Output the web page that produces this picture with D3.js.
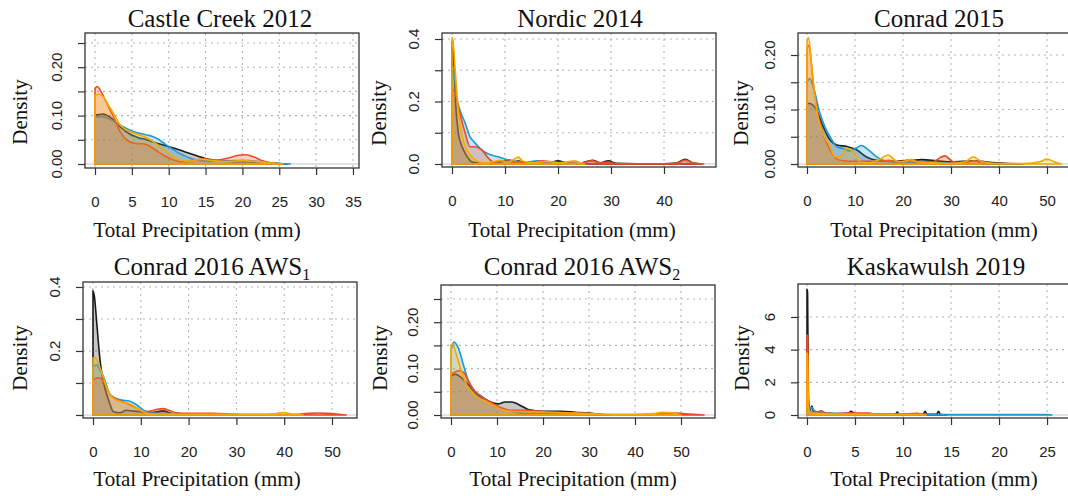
<!DOCTYPE html>
<html><head><meta charset="utf-8">
<script src="https://cdn.jsdelivr.net/npm/d3@7"></script>
<style>body{margin:0;background:#fff}svg{display:block}</style>
</head><body>
<svg id="c" width="1068" height="496"></svg>
<script>
// ---------- DATA (x = precipitation mm, y = density) ----------
const seriesNames = ["black","blue","red","orange"];
const seriesColors = ["#1a1a1a","#1b9ad7","#f04a24","#f5a800"];

const titles = ["Castle Creek 2012","Nordic 2014","Conrad 2015","Conrad 2016 AWS","Conrad 2016 AWS","Kaskawulsh 2019"];
const titleSubs = ["","","","1","2",""];
const xLabel = "Total Precipitation (mm)";
const yLabel = "Density";

const xTicks = [[0,5,10,15,20,25,30,35],[0,10,20,30,40],[0,10,20,30,40,50],[0,10,20,30,40,50],[0,10,20,30,40,50],[0,5,10,15,20,25]];
const yTicks = [[0,0.05,0.10,0.15,0.20,0.25],[0,0.1,0.2,0.3,0.4],[0,0.05,0.10,0.15,0.20],[0,0.1,0.2,0.3,0.4],[0,0.05,0.10,0.15,0.20,0.25],[0,2,4,6]];
const yTickLabels = [[0,0.10,0.20],[0,0.2,0.4],[0,0.10,0.20],[0.2,0.4],[0,0.10,0.20],[0,2,4,6]];
const yTickFormats = [".2f",".1f",".2f",".1f",".2f","d"];

// Castle Creek 2012
const castleBlack = [[0,0.101],[0.5,0.102],[1.1,0.103],[1.7,0.100],[2.3,0.094],[3.4,0.077],[4.7,0.062],[5.8,0.055],[7,0.050],[8.2,0.044],[9.3,0.039],[10.4,0.034],[11.5,0.029],[12.8,0.022],[14.2,0.015],[15.5,0.009],[17,0.006],[19,0.005],[21,0.005],[23,0.003],[25,0.001],[26,0]];
const castleBlue = [[0,0.097],[1,0.098],[2,0.093],[2.8,0.086],[3.8,0.077],[5.2,0.067],[6.2,0.063],[7,0.060],[7.8,0.057],[8.4,0.053],[9.1,0.046],[9.7,0.039],[10.4,0.032],[11.1,0.025],[12,0.018],[12.9,0.012],[14,0.008],[15.5,0.006],[17,0.006],[19,0.007],[21,0.007],[23,0.003],[25,0.001],[26.5,0]];
const castleRed = [[0,0.156],[0.3,0.160],[0.8,0.150],[1.6,0.125],[2.5,0.098],[3.4,0.067],[4.3,0.050],[5.2,0.043],[6,0.042],[6.6,0.042],[7.3,0.038],[7.9,0.032],[8.8,0.023],[9.7,0.015],[10.6,0.009],[11.5,0.005],[12.5,0.005],[13.5,0.008],[15,0.010],[16.5,0.008],[18,0.012],[19.5,0.018],[20.5,0.019],[21.5,0.015],[22.5,0.008],[24,0.002],[25.5,0]];
const castleOrange = [[0,0.143],[0.5,0.144],[1.1,0.139],[1.8,0.122],[2.5,0.105],[3.4,0.081],[4.7,0.067],[5.5,0.063],[6.1,0.060],[7.5,0.050],[8.8,0.036],[9.7,0.025],[10.6,0.015],[11.5,0.009],[12.4,0.006],[13.5,0.008],[14.5,0.010],[16,0.007],[18,0.005],[20,0.007],[22,0.005],[24,0.002],[25.5,0]];

// Nordic 2014
const nordicBlack = [[0,0.39],[0.15,0.395],[0.4,0.30],[0.7,0.19],[1.2,0.098],[1.8,0.06],[2.5,0.034],[3.1,0.018],[3.7,0.007],[4.5,0.004],[6,0.003],[8,0.004],[9.5,0.008],[11,0.012],[11.8,0.008],[12.5,0.010],[13.5,0.004],[16,0.003],[18.5,0.005],[20,0.010],[21.5,0.004],[24,0.002],[26.5,0.012],[28,0.004],[29.5,0.010],[31,0.002],[35,0.001],[40,0.001],[42.5,0.004],[44,0.015],[45.5,0.003],[47,0]];
const nordicBlue = [[0,0.30],[0.3,0.31],[0.8,0.22],[1.5,0.173],[2.5,0.13],[3.4,0.087],[4.2,0.07],[5,0.055],[6,0.04],[6.9,0.032],[8.7,0.023],[10.6,0.013],[12,0.008],[14,0.006],[16,0.010],[18,0.006],[20,0.004],[22,0.003],[24,0.002],[25.5,0]];
const nordicRed = [[0,0.225],[0.2,0.237],[0.6,0.227],[1.5,0.162],[2.5,0.098],[3.4,0.055],[4.3,0.055],[5.6,0.045],[6.9,0.018],[8.1,0.005],[9.5,0.010],[11,0.008],[12.5,0.004],[15,0.005],[17,0.010],[19,0.006],[21,0.003],[24,0.002],[26.5,0.010],[28,0.003],[29.5,0.006],[31,0.001],[35,0.001],[40,0.001],[42.5,0.003],[44,0.013],[45.5,0.003],[47.5,0]];
const nordicOrange = [[0,0.40],[0.1,0.405],[0.57,0.31],[1.2,0.17],[1.8,0.098],[2.8,0.045],[3.7,0.023],[5,0.007],[6.5,0.004],[8,0.008],[9,0.012],[10.5,0.006],[12,0.018],[12.5,0.022],[13.3,0.010],[15,0.004],[18,0.008],[20,0.004],[21.5,0.006],[23,0.010],[24.2,0.004],[25,0]];

// Conrad 2015
const conrad15Black = [[0,0.111],[0.6,0.111],[2,0.099],[3.4,0.068],[4.8,0.044],[6.2,0.035],[8.3,0.032],[10.3,0.026],[12.4,0.013],[14.5,0.007],[17,0.005],[20,0.006],[22,0.007],[24,0.008],[27,0.006],[30,0.004],[33,0.005],[35,0.006],[38,0.003],[42,0.001],[45,0]];
const conrad15Blue = [[0,0.15],[0.6,0.157],[1.3,0.142],[2.7,0.093],[3.75,0.068],[4.8,0.05],[6.2,0.032],[7.6,0.028],[8.8,0.024],[10,0.028],[11.4,0.034],[12.8,0.026],[14.5,0.013],[16.6,0.005],[19,0.003],[22,0.003],[26,0.002],[30,0.001],[33,0]];
const conrad15Red = [[0,0.21],[0.4,0.218],[1.3,0.148],[2.4,0.087],[3.4,0.056],[4.8,0.026],[6.2,0.009],[7.6,0.006],[10,0.005],[13,0.005],[15,0.005],[17,0.007],[19,0.004],[21,0.007],[23,0.004],[26,0.004],[28.7,0.015],[30.5,0.004],[33,0.003],[35,0.006],[36.5,0]];
const conrad15Orange = [[0,0.225],[0.3,0.232],[1,0.178],[2,0.099],[3.4,0.056],[4.8,0.032],[5.8,0.013],[6.9,0.013],[8.3,0.029],[9.7,0.022],[11,0.004],[13,0.002],[15,0.008],[16.9,0.0165],[18.5,0.006],[20,0.004],[21.5,0.008],[23,0.004],[26,0.002],[30,0.001],[33,0.004],[34.6,0.013],[36.5,0.004],[40,0.001],[45,0.001],[48.5,0.004],[50,0.009],[51.5,0.004],[53,0]];

// Conrad 2016 AWS1
const aws1Black = [[0,0.388],[0.3,0.37],[0.77,0.29],[1.5,0.168],[2.15,0.105],[2.9,0.063],[3.6,0.032],[4.2,0.011],[5.6,0.007],[7,0.015],[8.5,0.012],[9.8,0.010],[12.6,0.008],[14.7,0.013],[16,0.007],[17.5,0]];
const aws1Blue = [[0,0.15],[0.77,0.157],[1.5,0.14],[2.2,0.12],[3.6,0.063],[5.6,0.048],[7.7,0.043],[9.1,0.032],[10.5,0.016],[12,0.007],[15,0.005],[20,0.003],[25,0.002],[30,0]];
const aws1Red = [[0,0.11],[1.1,0.116],[2.2,0.105],[3.6,0.063],[5,0.048],[7,0.037],[9.1,0.022],[10.5,0.01],[12,0.012],[13.5,0.018],[14.7,0.02],[16,0.014],[17.5,0.007],[20,0.005],[25,0.005],[30,0.002],[35,0.001],[40,0.001],[43,0.002],[45,0.005],[47,0.006],[49,0.005],[51,0.003],[53,0]];
const aws1Orange = [[0,0.178],[0.5,0.178],[1.5,0.147],[2.2,0.116],[2.9,0.084],[4.2,0.053],[6.3,0.040],[7.7,0.034],[9.1,0.022],[10.5,0.011],[12,0.003],[16,0.003],[20,0.002],[25,0.002],[30,0.002],[35,0.002],[38,0.004],[39.8,0.008],[41.5,0.003],[44,0]];

// Conrad 2016 AWS2
const aws2Black = [[0,0.083],[0.9,0.088],[2.3,0.08],[3.8,0.065],[5.2,0.048],[7.4,0.034],[8.9,0.027],[10.3,0.024],[11.7,0.028],[13.2,0.028],[15.4,0.019],[16.8,0.012],[19.7,0.008],[24,0.008],[27,0.006],[30,0.004],[33,0.001],[35,0]];
const aws2Blue = [[0,0.14],[0.65,0.157],[1.6,0.144],[2.7,0.108],[3.8,0.073],[5.2,0.051],[6.7,0.040],[8.1,0.030],[9.6,0.019],[11,0.013],[13.2,0.008],[15.4,0.004],[20,0.003],[25,0.001],[27,0]];
const aws2Red = [[0,0.087],[1.6,0.095],[2.7,0.092],[3.8,0.073],[5.2,0.051],[7,0.037],[8.9,0.026],[11,0.015],[13.2,0.010],[16.8,0.010],[21,0.006],[25.5,0.005],[30,0.003],[34,0.001],[40,0.001],[44,0.002],[47,0.004],[49,0.004],[52,0.002],[55,0]];
const aws2Orange = [[0,0.151],[0.3,0.153],[1.2,0.13],[2.3,0.094],[3.4,0.065],[4.5,0.051],[5.9,0.037],[7.4,0.03],[9.6,0.019],[11,0.012],[13.2,0.008],[17,0.007],[22,0.006],[27,0.004],[30,0.003],[35,0.001],[40,0.001],[44,0.003],[46,0.006],[48,0.005],[50,0]];

// Kaskawulsh 2019
const kaskBlack = [[0,7.7],[0.06,7.5],[0.15,1.0],[0.3,0.3],[0.5,0.55],[0.7,0.2],[1,0.15],[2,0.1],[3,0.08],[4.3,0.1],[4.6,0.22],[4.9,0.1],[6,0.05],[8,0.05],[9.2,0.05],[9.4,0.18],[9.6,0.05],[11,0.04],[12.1,0.05],[12.3,0.22],[12.5,0.05],[13.5,0.05],[13.7,0.22],[13.9,0.03],[14.5,0]];
const kaskBlue = [[0,0.3],[0.2,0.4],[0.5,0.45],[0.8,0.25],[1.5,0.15],[3,0.1],[5,0.08],[7,0.06],[10,0.04],[15,0.03],[20,0.03],[25,0.02],[25.5,0]];
const kaskRed = [[0,4.9],[0.06,4.8],[0.15,0.8],[0.3,0.2],[0.8,0.15],[1.5,0.25],[2,0.1],[3,0.08],[4.5,0.12],[6.5,0.12],[7,0.05],[9,0.03],[11.5,0.1],[12,0.02],[12.5,0]];
const kaskOrange = [[0,3.8],[0.06,3.7],[0.15,0.6],[0.3,0.15],[1,0.1],[2,0.08],[4,0.06],[6,0.05],[8,0.04],[10,0.04],[12.3,0.03],[12.4,0]];

const panelSeries = [
  [castleBlack,castleBlue,castleRed,castleOrange],
  [nordicBlack,nordicBlue,nordicRed,nordicOrange],
  [conrad15Black,conrad15Blue,conrad15Red,conrad15Orange],
  [aws1Black,aws1Blue,aws1Red,aws1Orange],
  [aws2Black,aws2Blue,aws2Red,aws2Orange],
  [kaskBlack,kaskBlue,kaskRed,kaskOrange]
];

// ---------- LAYOUT ----------
const layout = [
  {box:[85,33,359,168], xd:[-1.357,35.82], yd:[-0.00826,0.2707], tX:220, tY:27, lX:197, lY:237, dX:27, dY:112},
  {box:[442,33,716,167], xd:[-1.887,49.81], yd:[-0.0096,0.4192], tX:580, tY:27, lX:572, lY:237, dX:386, dY:113},
  {box:[798,33,1072,167], xd:[-1.875,55.21], yd:[-0.0055,0.2404], tX:939, tY:27, lX:934, lY:237, dX:748, dY:113},
  {box:[83,282,357,418], xd:[-2.092,55.23], yd:[-0.0094,0.4156], tX:212, tY:275, lX:197, lY:486, dX:27, dY:358},
  {box:[441,285,715,418], xd:[-2.174,57.39], yd:[-0.00647,0.2802], tX:582, tY:275, lX:573, lY:486, dX:387, dY:358},
  {box:[798,284,1072,418], xd:[-0.9375,27.6], yd:[-0.1837,8.02], tX:936, tY:275, lX:934, lY:486, dX:749, dY:358}
];

const svg = d3.select("#c");
const serif = "'Liberation Serif','Times New Roman',serif";
const sans = "'Liberation Sans',Arial,Helvetica,sans-serif";

layout.forEach((L, i) => {
  const [x0,y0,x1,y1] = L.box;
  const x = d3.scaleLinear().domain(L.xd).range([x0,x1]);
  const y = d3.scaleLinear().domain(L.yd).range([y1,y0]);
  const g = svg.append("g");
  const cid = "clip"+i;
  svg.append("clipPath").attr("id",cid).append("rect").attr("x",x0).attr("y",y0).attr("width",x1-x0).attr("height",y1-y0);
  const inner = g.append("g").attr("clip-path",`url(#${cid})`);

  // grid
  inner.selectAll(".gx").data(xTicks[i]).join("line")
    .attr("x1",d=>x(d)).attr("x2",d=>x(d)).attr("y1",y0).attr("y2",y1)
    .attr("stroke","#b4b4b4").attr("stroke-width",1.1).attr("stroke-dasharray","2,4");
  inner.selectAll(".gy").data(yTicks[i].filter(v=>v!==0)).join("line")
    .attr("x1",x0).attr("x2",x1).attr("y1",d=>y(d)).attr("y2",d=>y(d))
    .attr("stroke","#b4b4b4").attr("stroke-width",1.1).attr("stroke-dasharray","2,4");
  // zero line
  inner.append("line").attr("x1",x0).attr("x2",x1).attr("y1",y(0)).attr("y2",y(0))
    .attr("stroke","#c8c8c8").attr("stroke-width",1.2);

  // density areas
  const area = d3.area().x(d=>x(d[0])).y0(y(0)).y1(d=>y(d[1])).curve(d3.curveMonotoneX);
  panelSeries[i].forEach((s, k) => {
    inner.append("path").attr("d", area(s) + "Z")
      .attr("fill", seriesColors[k]).attr("fill-opacity",0.25)
      .attr("stroke", seriesColors[k]).attr("stroke-width",1.6)
      .attr("stroke-linejoin","round");
  });

  // box
  g.append("rect").attr("x",x0).attr("y",y0).attr("width",x1-x0).attr("height",y1-y0)
    .attr("fill","none").attr("stroke","#333").attr("stroke-width",1.3);

  // x axis
  const ax = g.append("g").attr("transform",`translate(0,${y1})`)
    .call(d3.axisBottom(x).tickValues(xTicks[i]).tickSize(7).tickSizeOuter(0).tickFormat(d3.format("d")));
  ax.select(".domain").remove();
  ax.selectAll("line").attr("stroke","#333").attr("stroke-width",1.2);
  ax.selectAll("text").attr("y",39).attr("dy",null).attr("font-family",sans).attr("font-size",15).attr("fill","#222");

  // y axis
  const ay = g.append("g").attr("transform",`translate(${x0},0)`)
    .call(d3.axisLeft(y).tickValues(yTicks[i]).tickSize(7).tickSizeOuter(0).tickFormat(""));
  ay.select(".domain").remove();
  ay.selectAll("line").attr("stroke","#333").attr("stroke-width",1.2);
  const fmt = d3.format(yTickFormats[i]);
  g.selectAll(".yl").data(yTickLabels[i]).join("text")
    .attr("transform",d=>`translate(${x0-23},${y(d)}) rotate(-90)`)
    .attr("text-anchor","middle").attr("font-family",sans).attr("font-size",15).attr("fill","#222")
    .text(d=>fmt(d));

  // title
  const t = g.append("text").attr("x",L.tX).attr("y",L.tY).attr("text-anchor","middle")
    .attr("font-family",serif).attr("font-size",25).attr("fill","#111");
  t.append("tspan").text(titles[i]);
  if (titleSubs[i]) t.append("tspan").attr("dy",5).attr("font-size",16).text(titleSubs[i]);

  // x label
  g.append("text").attr("x",L.lX).attr("y",L.lY).attr("text-anchor","middle")
    .attr("font-family",serif).attr("font-size",21).attr("fill","#111").text(xLabel);
  // y label
  g.append("text").attr("transform",`translate(${L.dX},${L.dY}) rotate(-90)`).attr("text-anchor","middle")
    .attr("font-family",serif).attr("font-size",21).attr("fill","#111").text(yLabel);
});
</script>
</body></html>
